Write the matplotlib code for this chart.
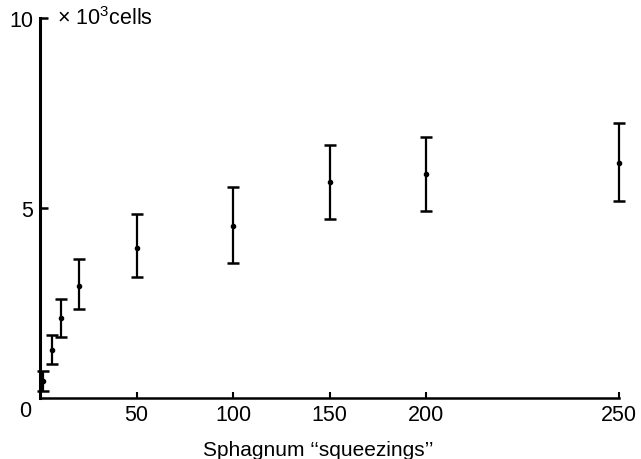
import numpy as np
import matplotlib
matplotlib.use("Agg")
import matplotlib.pyplot as plt

plt.rcParams["font.family"] = "Liberation Sans"
plt.rcParams["mathtext.fontset"] = "custom"
plt.rcParams["mathtext.rm"] = "Liberation Sans"

# squeezings vs cell count (x 10^3), mean with upper / lower bar ends
squeezings = [1.5, 6, 11, 20, 50, 100, 150, 200, 250]
cells_mean = [0.44, 1.27, 2.10, 2.96, 3.96, 4.53, 5.68, 5.89, 6.18]
cells_top = [0.72, 1.67, 2.60, 3.66, 4.84, 5.56, 6.65, 6.87, 7.24]
cells_low = [0.19, 0.89, 1.60, 2.34, 3.18, 3.56, 4.70, 4.93, 5.18]

xticks = [50, 100, 150, 200, 250]
yticks = [5, 10]


# the last interval (200-250) is drawn twice as wide as the others
def fwd(x):
    x = np.asarray(x, dtype=float)
    return np.where(x <= 200, x, 200 + 2 * (x - 200))


def inv(x):
    x = np.asarray(x, dtype=float)
    return np.where(x <= 200, x, 200 + (x - 200) / 2)


fig = plt.figure(figsize=(6.41, 4.60), dpi=100)
ax = fig.add_axes([0.0624, 0.1326, 0.9033, 0.8261])
ax.set_xscale("function", functions=(fwd, inv))

mean = np.array(cells_mean)
yerr = [mean - np.array(cells_low), np.array(cells_top) - mean]
bars = ax.errorbar(squeezings, mean, yerr=yerr, fmt="o", color="black", ms=3,
                   elinewidth=1.6, capsize=4, capthick=1.8)
for artist in bars.lines[0:1] + bars.lines[1] + bars.lines[2]:
    artist.set_clip_on(False)

ax.set_xlim(0, 250)
ax.set_ylim(0, 10)
for s in ["top", "right"]:
    ax.spines[s].set_visible(False)
ax.spines["left"].set_linewidth(2.2)
ax.spines["bottom"].set_linewidth(1.8)

fs = 15.5
ax.set_xticks(xticks)
ax.set_xticklabels([str(t) for t in xticks], fontsize=fs)
ax.set_yticks(yticks)
ax.set_yticklabels([str(t) for t in yticks], fontsize=fs)
ax.tick_params(axis="x", direction="in", length=4, width=1.5, pad=4)
ax.tick_params(axis="y", direction="in", length=6, width=1.8, pad=5)

ax.annotate("0", xy=(0, 0), xytext=(-11, -9), textcoords="offset points",
            fontsize=fs, ha="center", va="center", annotation_clip=False)
ax.annotate(r"× 10$^3$cells", xy=(0, 10), xytext=(12, 0),
            textcoords="offset points", fontsize=fs, ha="left", va="center",
            annotation_clip=False)

ax.set_xlabel("Sphagnum ‘‘squeezings’’", fontsize=15, labelpad=11)
ax.xaxis.label.set_x(0.48)

fig.savefig("out.png", dpi=100)
